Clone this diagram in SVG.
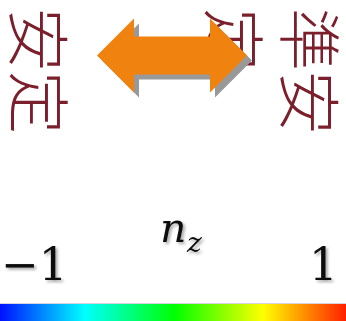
<svg xmlns="http://www.w3.org/2000/svg" width="346" height="321" viewBox="0 0 346 321">
  <style>
    .jp { font-family: "Noto Sans CJK JP", "Noto Sans", sans-serif; font-size: 63px; font-weight: 300; fill: #7A1F2B; dominant-baseline: central; }
    .math { font-family: "DejaVu Serif", "Liberation Serif", serif; fill: #111; }
  </style>
  <defs>
    <linearGradient id="rainbow" x1="0" y1="0" x2="1" y2="0">
      <stop offset="0" stop-color="#0010ff"/>
      <stop offset="0.245" stop-color="#00ffff"/>
      <stop offset="0.505" stop-color="#00ff00"/>
      <stop offset="0.76" stop-color="#ffff00"/>
      <stop offset="1" stop-color="#ff2000"/>
    </linearGradient>
    <filter id="soft" x="-20%" y="-20%" width="150%" height="150%">
      <feDropShadow dx="2" dy="2" stdDeviation="1.5" flood-color="#000" flood-opacity="0.35"/>
    </filter>
  </defs>

  <g id="stable">
    <text class="jp" transform="translate(42,8) rotate(90)" x="0" y="0">安定</text>
  </g>

  <g id="metastable">
    <text class="jp" transform="translate(313,8) rotate(90)" x="0" y="0">準安</text>
    <text class="jp" transform="translate(237,8) rotate(90)" x="0" y="0">定</text>
  </g>

  <g id="connectors">
    <polygon fill="#999999" transform="translate(5,5)" points="97,55.5 134,18.5 134,36.5 210,36.5 210,18.5 247,55.5 210,92.5 210,74.5 134,74.5 134,92.5"/>
    <polygon fill="#F0820F" points="97,55.5 134,18.5 134,36.5 210,36.5 210,18.5 247,55.5 210,92.5 210,74.5 134,74.5 134,92.5"/>
  </g>

  <g id="labels" filter="url(#soft)">
    <text class="math" font-style="italic" font-size="41" x="160" y="242">n</text>
    <text class="math" font-style="italic" font-size="28" x="187" y="252">z</text>
    <text class="math" font-size="45" x="1" y="280">−1</text>
    <text class="math" font-size="45" x="309" y="280">1</text>
  </g>

  <g id="colorbar">
    <rect x="0" y="303" width="346" height="1" fill="#d8d2dc"/>
    <rect x="0" y="304" width="346" height="17" fill="url(#rainbow)"/>
  </g>
</svg>
